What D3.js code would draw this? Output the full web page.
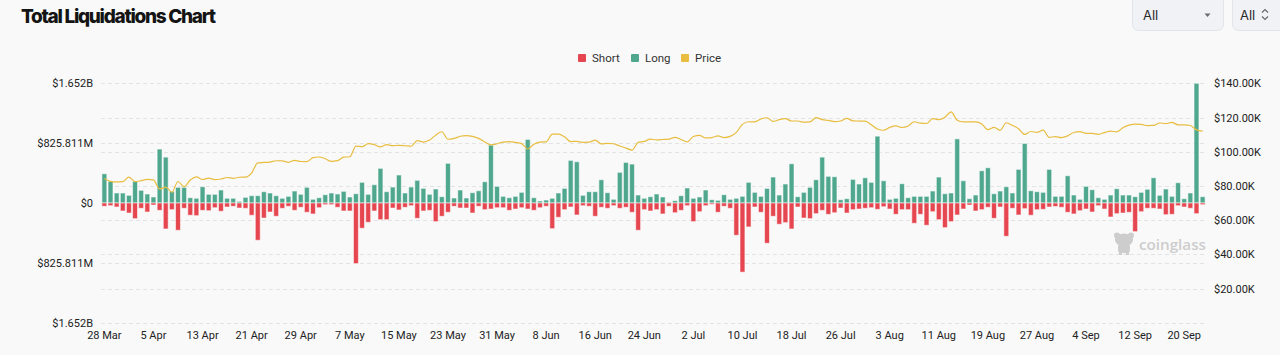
<!DOCTYPE html>
<html><head><meta charset="utf-8">
<script src="https://cdn.jsdelivr.net/npm/d3@7"></script>
<style>
html,body{margin:0;padding:0;background:#f9f9f9;}
svg{display:block;font-family:Roboto,"Noto Sans",sans-serif;}
</style></head><body>
<svg id="chart" width="1280" height="355"></svg>
<script>
// ---- data ----
const categories = d3.timeDay.range(new Date(2025, 2, 28), new Date(2025, 8, 24)).map(d3.timeFormat("%-d %b"));
const tickLabels = ["28 Mar","5 Apr","13 Apr","21 Apr","29 Apr","7 May","15 May","23 May","31 May","8 Jun","16 Jun","24 Jun","2 Jul","10 Jul","18 Jul","26 Jul","3 Aug","11 Aug","19 Aug","27 Aug","4 Sep","12 Sep","20 Sep"];
// long liquidations, $M
const longValues = [403,299,138,138,106,299,175,124,83,744,
633,161,216,216,73,65,224,120,120,179,
65,65,23,78,101,101,156,138,101,65,
92,165,120,216,51,73,114,138,124,161,
83,128,285,120,252,478,156,220,386,138,
220,313,202,120,193,87,547,69,179,69,
142,169,293,799,230,92,73,92,147,877,
73,28,41,65,138,202,588,569,106,156,
156,321,142,51,423,560,537,110,65,87,
124,83,14,32,101,207,65,83,179,45,
37,114,51,65,92,285,147,92,202,358,
110,262,541,87,147,216,321,633,368,362,
45,59,326,262,348,285,922,307,51,65,
266,73,92,92,92,165,358,128,138,885,
307,59,110,445,486,128,165,224,138,464,
822,169,156,147,464,92,92,376,110,51,
230,183,73,51,110,197,110,110,87,147,
189,348,106,193,92,280,59,138,1651.622,87];
// short liquidations, $M
const shortValues = [45,37,55,110,138,216,73,124,28,101,
358,92,376,73,169,175,101,106,65,114,
55,45,69,73,169,514,207,124,183,73,
45,101,59,128,151,65,23,23,59,110,
110,836,348,266,110,230,230,69,96,59,
37,211,110,101,257,183,128,45,69,69,
138,45,92,83,65,65,101,83,65,83,
101,65,45,354,197,92,55,165,37,45,
183,59,73,37,73,59,128,376,92,110,
92,151,45,134,101,37,257,120,37,18,
128,45,73,445,954,330,55,128,555,183,
293,271,358,55,207,216,147,101,156,134,
69,138,92,83,73,65,87,51,83,156,
92,92,280,156,307,120,230,340,257,165,
83,28,110,92,59,211,55,459,73,165,
78,169,92,87,55,48,59,128,151,106,
83,124,37,83,193,147,138,128,395,120,
73,73,83,161,156,37,55,73,147,23];
// BTC price, $K
const priceValues = [84.35,82.65,82.33,82.55,
85.17,82.49,83.10,83.84,83.50,78.21,79.24,76.27,82.57,79.63,83.40,85.29,83.74,84.54,83.67,84.03,84.90,84.45,85.06,85.17,87.52,93.44,93.70,93.94,94.72,94.65,93.75,94.98,94.28,94.21,
96.49,96.91,95.89,94.32,94.75,96.80,97.03,103.24,102.97,104.70,104.11,102.81,104.17,103.54,103.74,103.49,103.19,106.45,105.61,106.79,109.67,111.67,107.29,107.79,109.03,109.44,108.99,107.80,105.64,103.99,104.64,
105.65,105.88,105.43,104.73,101.58,104.39,105.62,105.79,110.29,110.26,108.69,105.93,106.09,105.47,105.55,106.79,104.60,104.88,104.66,103.30,102.12,100.96,105.42,106.00,107.34,106.95,107.13,107.34,108.38,107.14,
105.70,108.86,109.58,108.03,108.23,109.22,108.26,108.95,111.33,115.99,117.52,117.44,119.12,119.84,117.68,118.76,119.29,117.96,117.94,117.30,117.44,119.96,118.76,118.37,117.64,117.95,119.45,118.06,117.92,117.83,115.76,
113.30,112.55,114.22,115.07,114.14,115.03,117.50,116.69,116.50,119.31,118.73,120.17,123.34,118.36,117.40,117.49,117.45,116.25,112.87,114.27,112.50,116.94,115.37,113.46,110.12,111.80,111.26,112.57,108.38,108.82,108.24,
109.24,111.24,111.72,110.72,110.66,110.19,111.17,112.07,111.55,113.96,115.50,116.10,115.95,115.27,115.35,116.79,116.47,117.14,115.69,115.71,115.31,112.75,112.01];
const priceTicks = [20,40,60,80,100,120,140];
const seriesNames = ["Short","Long","Price"];
const seriesColors = ["#e5464f","#4fa78e","#e8bd40"];

// ---- layout ----
const svg = d3.select("#chart");
const L = 101, R = 1206, T = 83.3, B = 322.7;

const x = d3.scaleBand().domain(categories).range([L, R]).paddingInner(0.2).paddingOuter(0.15);
const maxVal = d3.max([d3.max(longValues), d3.max(shortValues)]);
const y = d3.scaleLinear().domain([-maxVal, maxVal]).range([B, T]);
const yp = d3.scaleLinear().domain([0, 140]).range([B, T]);
const leftTicks = [-maxVal, -maxVal/2, 0, maxVal/2, maxVal];

const fmtLeft = v => {
  const a = Math.abs(v);
  if (a === 0) return "$0";
  return a >= 1000 ? "$" + (a/1000).toFixed(3) + "B" : "$" + a.toFixed(3) + "M";
};
const fmtRight = v => "$" + v.toFixed(2) + "K";

// title
const title = svg.append("text").attr("x", 21).attr("y", 23)
  .attr("font-family", "Inter, 'Noto Sans', sans-serif").attr("font-weight", 800)
  .attr("font-size", 19).attr("fill", "#141414").text("Total Liquidations Chart");
const tl = title.node().getComputedTextLength();
title.attr("letter-spacing", ((195 - tl) / 23).toFixed(2));

// dropdowns
const dd = svg.append("g");
dd.append("rect").attr("x", 1132.5).attr("y", -4).attr("width", 91).attr("height", 34.5).attr("rx", 6)
  .attr("fill", "#f0f2f5").attr("stroke", "#e1e4e9");
dd.append("text").attr("x", 1143).attr("y", 20).attr("font-size", 13).attr("fill", "#2a2a2a")
  .attr("font-family", "Inter, sans-serif").text("All");
dd.append("path").attr("d", "M1204.5,13.5 L1210.5,13.5 L1207.5,17 Z").attr("fill", "#6b6b6b");
dd.append("rect").attr("x", 1232.5).attr("y", -4).attr("width", 60).attr("height", 34.5).attr("rx", 6)
  .attr("fill", "#f0f2f5").attr("stroke", "#e1e4e9");
dd.append("text").attr("x", 1240).attr("y", 20).attr("font-size", 13).attr("fill", "#2a2a2a")
  .attr("font-family", "Inter, sans-serif").text("All");
dd.append("path").attr("d", "M1262,12.5 L1265,9.5 L1268,12.5 M1262,16.5 L1265,19.5 L1268,16.5")
  .attr("fill", "none").attr("stroke", "#666").attr("stroke-width", 1.1);

// legend
const legX = [578, 631, 681];
const leg = svg.append("g");
seriesNames.forEach((n, i) => {
  leg.append("rect").attr("x", legX[i]).attr("y", 54).attr("width", 8).attr("height", 8).attr("rx", 1).attr("fill", seriesColors[i]);
  leg.append("text").attr("x", legX[i] + 14).attr("y", 62).attr("font-size", 11.5).attr("fill", "#333").text(n);
});

// gridlines
const grid = svg.append("g").attr("stroke", "#e3e3e3").attr("stroke-dasharray", "4 3").attr("stroke-width", 1);
leftTicks.forEach(v => grid.append("line").attr("x1", L).attr("x2", R).attr("y1", Math.round(y(v)) + 0.5).attr("y2", Math.round(y(v)) + 0.5));
priceTicks.forEach(v => grid.append("line").attr("x1", L).attr("x2", R).attr("y1", Math.round(yp(v)) + 0.5).attr("y2", Math.round(yp(v)) + 0.5));

// watermark
const wm = svg.append("g").attr("fill", "#cdcdcd");
wm.append("ellipse").attr("cx", 1124).attr("cy", 240).attr("rx", 9).attr("ry", 6.5);
wm.append("circle").attr("cx", 1117).attr("cy", 235.5).attr("r", 3);
wm.append("circle").attr("cx", 1131).attr("cy", 235.5).attr("r", 3);
wm.append("rect").attr("x", 1118).attr("y", 244).attr("width", 12).attr("height", 9).attr("rx", 3);
wm.append("rect").attr("x", 1119).attr("y", 251).attr("width", 3).attr("height", 4);
wm.append("rect").attr("x", 1126).attr("y", 251).attr("width", 3).attr("height", 4);
const wmt = wm.append("text").attr("x", 1139).attr("y", 250).attr("font-size", 16.5).attr("font-weight", 600)
  .attr("font-family", "'Open Sans', sans-serif").text("coinglass");
const wl = wmt.node().getComputedTextLength();
wmt.attr("font-size", (16.5 * 67 / wl).toFixed(2));

// bars
const bars = svg.append("g").attr("stroke", "#ffffff").attr("stroke-opacity", 0.55).attr("stroke-width", 1);
bars.selectAll(".long").data(longValues).join("rect").attr("class", "long")
  .attr("x", (d, i) => x(categories[i])).attr("width", x.bandwidth())
  .attr("y", d => y(d)).attr("height", d => y(0) - y(d)).attr("fill", seriesColors[1]);
bars.selectAll(".short").data(shortValues).join("rect").attr("class", "short")
  .attr("x", (d, i) => x(categories[i])).attr("width", x.bandwidth())
  .attr("y", y(0)).attr("height", d => y(-d) - y(0)).attr("fill", seriesColors[0]);

// price line
const line = d3.line().x((d, i) => x(categories[i]) + x.bandwidth() / 2).y(d => yp(d)).curve(d3.curveMonotoneX);
svg.append("path").datum(priceValues).attr("d", line).attr("fill", "none")
  .attr("stroke", seriesColors[2]).attr("stroke-width", 1.2);

// axes
const axL = svg.append("g").attr("transform", `translate(${L},0)`)
  .call(d3.axisLeft(y).tickValues(leftTicks).tickFormat(fmtLeft).tickSize(0).tickPadding(8));
const axR = svg.append("g").attr("transform", `translate(${R},0)`)
  .call(d3.axisRight(yp).tickValues(priceTicks).tickFormat(fmtRight).tickSize(0).tickPadding(8));
const axB = svg.append("g").attr("transform", `translate(0,${B})`)
  .call(d3.axisBottom(x).tickValues(tickLabels).tickSize(0).tickPadding(9));
[axL, axR, axB].forEach(a => {
  a.select(".domain").remove();
  a.selectAll("text").attr("font-size", 11).attr("fill", "#222").attr("font-family", "Roboto, sans-serif");
});
</script>
</body></html>
